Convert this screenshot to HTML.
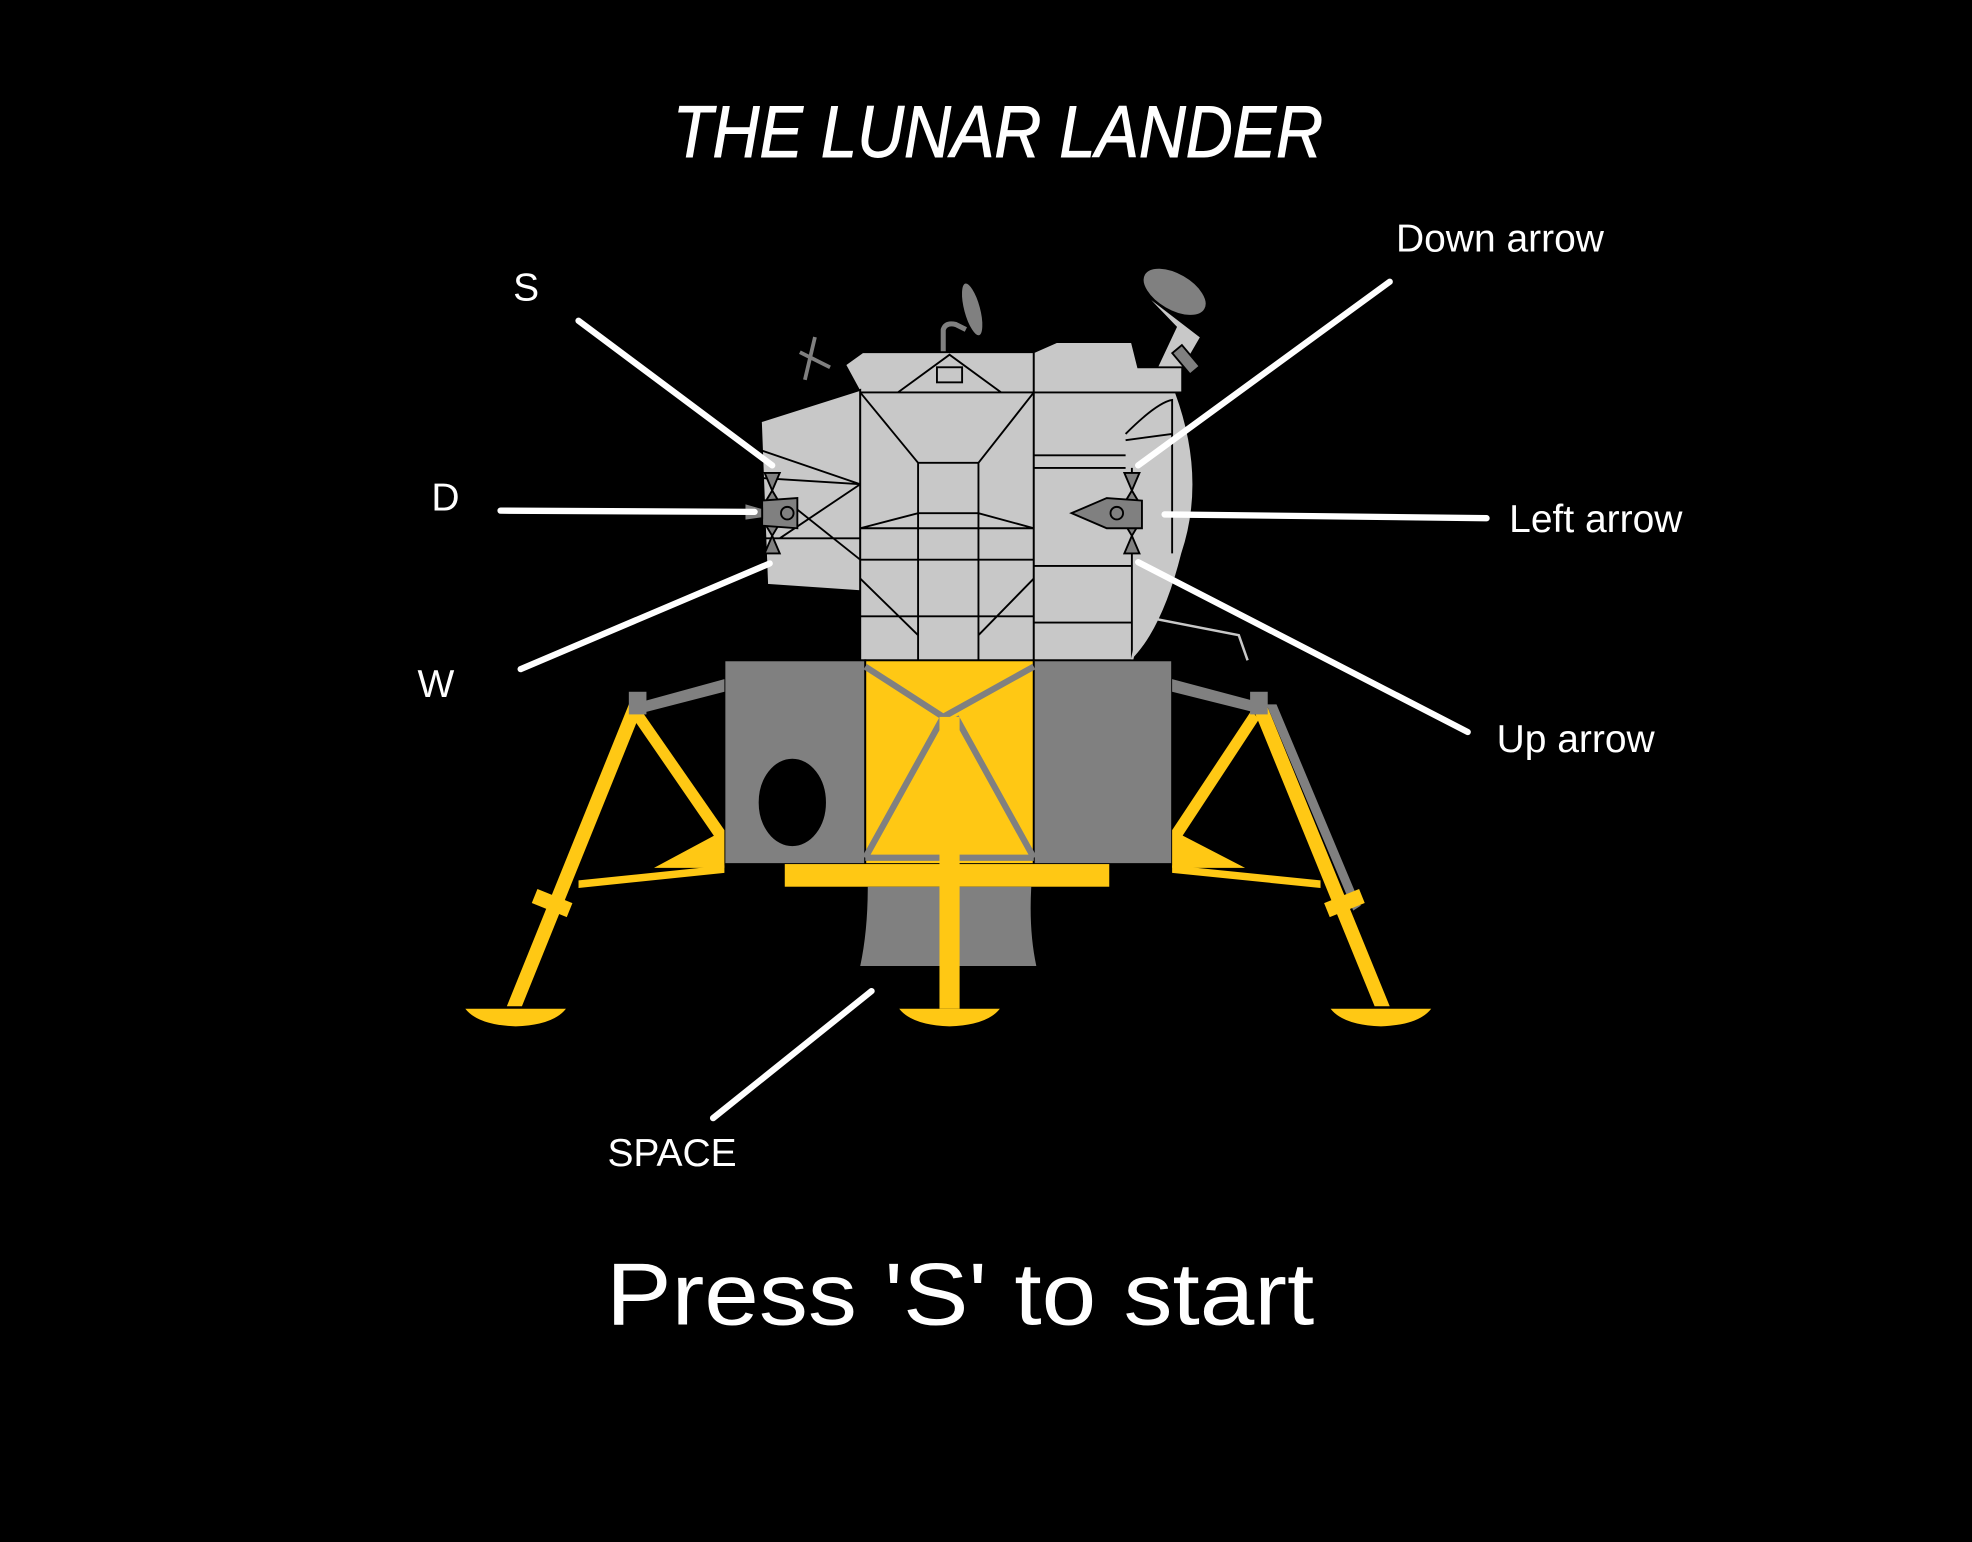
<!DOCTYPE html>
<html><head><meta charset="utf-8"><style>
html,body{margin:0;padding:0;background:#000;}
svg{display:block;}
</style></head><body>
<svg width="1972" height="1542" viewBox="0 0 1568 1226" preserveAspectRatio="none" xmlns="http://www.w3.org/2000/svg">
<rect width="1568" height="1226" fill="#000"/>
<text x="535" y="125" font-family="Liberation Sans, sans-serif" font-style="italic" font-size="58" fill="#fff" stroke="#fff" stroke-width="0.8" textLength="517" lengthAdjust="spacingAndGlyphs">THE LUNAR LANDER</text>

<g stroke="#000" stroke-width="1.5">
  <path d="M750 280 L750 262 Q752 256 760 258 L768 262" fill="none" stroke="#808080" stroke-width="4"/>
  <ellipse cx="773" cy="246" rx="7" ry="22" transform="rotate(-15 773 246)" fill="#808080"/>
  <path d="M908 232 L935 260 L920 292 L940 294 L955 268 Z" fill="#c8c8c8"/>
  <ellipse cx="934" cy="232" rx="28" ry="15" transform="rotate(30 934 232)" fill="#808080"/>
  <rect x="938" y="275" width="10" height="22" transform="rotate(-40 943 286)" fill="#808080"/>
  <path d="M636 280 L660 292 M648 268 L640 302" stroke="#808080" stroke-width="3"/>
  <path d="M672 290 L686 280 L822 280 L822 312 L684 312 Z" fill="#c8c8c8"/>
  <path d="M714 312 L755 282 L796 312" fill="none"/>
  <rect x="745" y="292" width="20" height="12" fill="#c8c8c8"/>
  <path d="M822 280 L840 272 L900 272 L905 292 L940 292 L940 312 L822 312 Z" fill="#c8c8c8"/>
  <path d="M605 335 L684 310 L684 470 L610 465 Z" fill="#c8c8c8"/>
  <path d="M605 358 L684 385 M605 380 L684 385 M605 428 L684 428 M620 428 L684 385 M630 402 L684 445" fill="none"/>
  <rect x="684" y="312" width="138" height="213" fill="#c8c8c8"/>
  <path d="M684 312 L730 368 L778 368 L822 312 M730 368 L730 525 M778 368 L778 525 M684 420 L822 420 M684 445 L822 445 M684 490 L822 490 M684 420 L730 408 L778 408 L822 420 M684 460 L730 505 M778 505 L822 460" fill="none"/>
  <path d="M822 312 L935 312 Q960 380 940 440 Q925 500 900 525 L822 525 Z" fill="#c8c8c8"/>
  <path d="M822 362 L895 362 M822 372 L895 372 M822 450 L900 450 M822 495 L900 495 M900 372 L900 525 M895 345 Q920 320 932 318 L932 440 M895 350 L932 345" fill="none"/>
  <path d="M900 525 L908 490 L985 505 L992 525" fill="none" stroke="#c8c8c8" stroke-width="2"/>
  <g fill="#808080">
    <path d="M608 376 L620 376 L614 390 L620 400 L608 400 L614 390 Z"/>
    <path d="M608 440 L620 440 L614 426 L620 416 L608 416 L614 426 Z"/>
    <path d="M606 398 L634 396 L634 420 L606 418 Z"/>
    <path d="M592 400 L606 404 L606 412 L592 414 Z"/>
    <circle cx="626" cy="408" r="5"/>
    <path d="M894 376 L906 376 L900 390 L906 400 L894 400 L900 390 Z"/>
    <path d="M894 440 L906 440 L900 426 L906 416 L894 416 L900 426 Z"/>
    <path d="M852 408 L880 396 L908 398 L908 420 L880 420 Z"/>
    <circle cx="888" cy="408" r="5"/>
  </g>
  <rect x="576" y="525" width="112" height="162" fill="#808080"/>
  <rect x="688" y="525" width="134" height="162" fill="#ffc814"/>
  <rect x="822" y="525" width="110" height="162" fill="#808080"/>
  <ellipse cx="630" cy="638" rx="26" ry="34" fill="#000"/>
  <path d="M688 530 L750 570 L822 530 M750 570 L688 682 M760 570 L822 682 M688 682 L822 682" fill="none" stroke="#808080" stroke-width="5"/>
  <rect x="624" y="687" width="258" height="18" fill="#ffc814" stroke="none"/>
  <path d="M690 705 L820 705 Q818 740 824 768 L684 768 Q690 740 690 705 Z" fill="#808080" stroke="none"/>
  <g stroke="none">
    <path d="M576 540 L510 558 L514 566 L576 550 Z" fill="#808080"/>
    <path d="M932 540 L1000 558 L996 566 L932 550 Z" fill="#808080"/>
    <path d="M500 560 L512 560 L415 800 L403 800 Z" fill="#ffc814"/>
    <path d="M510 565 L576 660 L570 668 L504 572 Z" fill="#ffc814"/>
    <path d="M576 660 L576 690 L520 690 Z" fill="#ffc814"/>
    <path d="M460 700 L576 688 L576 694 L460 706 Z" fill="#ffc814"/>
    <rect x="424" y="712" width="30" height="12" transform="rotate(22 439 718)" fill="#ffc814"/>
    <rect x="500" y="550" width="14" height="18" fill="#808080"/>
    <path d="M995 560 L1007 560 L1105 800 L1093 800 Z" fill="#ffc814"/>
    <path d="M1007 560 L1015 560 L1082 720 L1076 724 Z" fill="#808080"/>
    <path d="M995 565 L932 660 L938 668 L1001 572 Z" fill="#ffc814"/>
    <path d="M932 660 L932 690 L990 690 Z" fill="#ffc814"/>
    <path d="M1050 700 L932 688 L932 694 L1050 706 Z" fill="#ffc814"/>
    <rect x="1054" y="712" width="30" height="12" transform="rotate(-22 1069 718)" fill="#ffc814"/>
    <rect x="994" y="550" width="14" height="18" fill="#808080"/>
    <rect x="747" y="570" width="16" height="232" fill="#ffc814"/>
    <path d="M370 802 L450 802 Q440 815 410 816 Q380 815 370 802 Z" fill="#ffc814"/>
    <path d="M715 802 L795 802 Q785 815 755 816 Q725 815 715 802 Z" fill="#ffc814"/>
    <path d="M1058 802 L1138 802 Q1128 815 1098 816 Q1068 815 1058 802 Z" fill="#ffc814"/>
  </g>
</g>

<g stroke="#fff" stroke-width="5" stroke-linecap="round">
  <line x1="460" y1="255" x2="614" y2="370"/>
  <line x1="398" y1="406" x2="600" y2="407"/>
  <line x1="414" y1="532" x2="612" y2="448"/>
  <line x1="1105" y1="224" x2="905" y2="370"/>
  <line x1="926" y1="409" x2="1182" y2="412"/>
  <line x1="905" y1="447" x2="1167" y2="582"/>
  <line x1="693" y1="788" x2="567" y2="889"/>
</g>

<g font-family="Liberation Sans, sans-serif" font-size="31" fill="#fff">
  <text x="408" y="239">S</text>
  <text x="343" y="406">D</text>
  <text x="332" y="554">W</text>
  <text x="1110" y="200">Down arrow</text>
  <text x="1200" y="423">Left arrow</text>
  <text x="1190" y="598">Up arrow</text>
  <text x="483" y="927">SPACE</text>
</g>
<text x="482" y="1053" font-family="Liberation Sans, sans-serif" font-size="70" fill="#fff" textLength="563" lengthAdjust="spacingAndGlyphs">Press 'S' to start</text>
</svg>
</body></html>
